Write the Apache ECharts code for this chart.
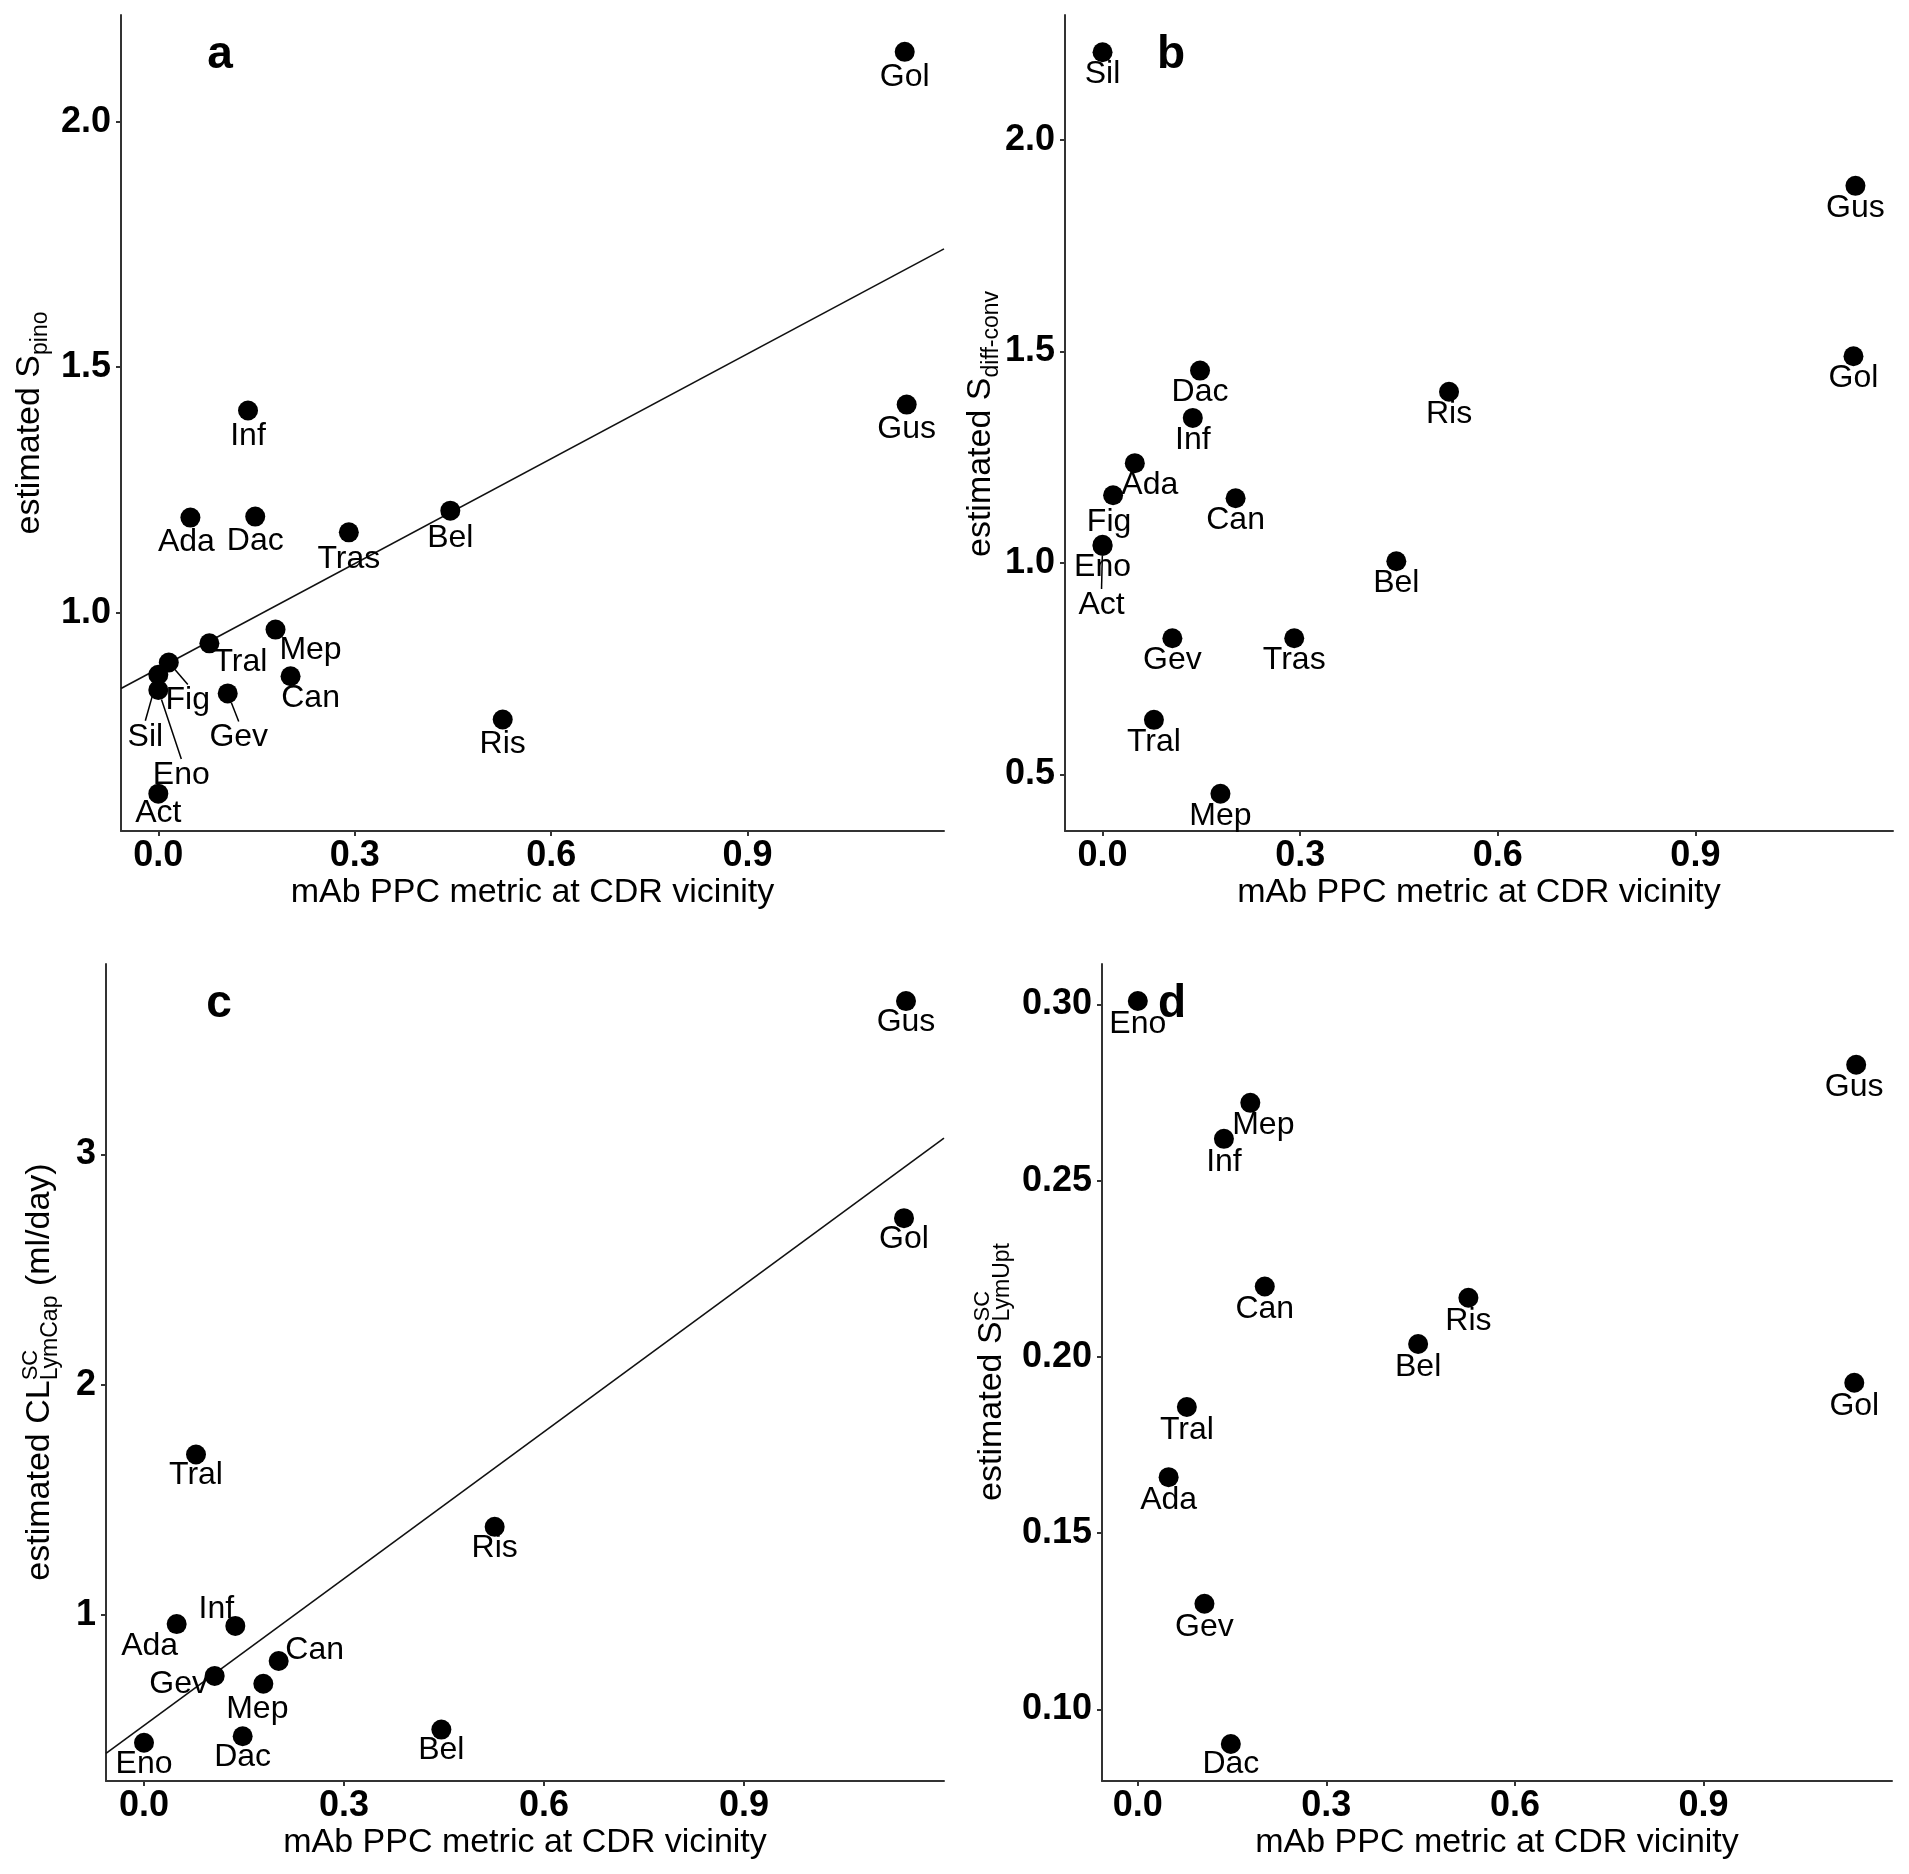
<!DOCTYPE html>
<html>
<head>
<meta charset="utf-8">
<script src="https://cdn.jsdelivr.net/npm/echarts@6/dist/echarts.min.js"></script>
<style>
  html, body { margin: 0; padding: 0; background: #fff; }
  #chart { width: 1909px; height: 1874px; }
</style>
</head>
<body>
<div id="chart"></div>
<script>
const FONT = '"Liberation Sans", Arial, sans-serif'

// mAbs, and the PPC metric at CDR vicinity (x of every panel)
const drugs = ['Gol', 'Gus', 'Inf', 'Ada', 'Dac', 'Tras', 'Bel', 'Tral', 'Mep', 'Can', 'Gev', 'Fig', 'Sil', 'Eno', 'Act', 'Ris']
const ppcMetric = [1.140, 1.143, 0.137, 0.049, 0.148, 0.291, 0.446, 0.078, 0.179, 0.202, 0.106, 0.016, 0.000, 0.000, 0.000, 0.526]

// estimated parameters (null = mAb not in that panel)
const sPino = [2.142, 1.424, 1.412, 1.194, 1.196, 1.164, 1.208, 0.938, 0.966, 0.871, 0.836, 0.899, 0.874, 0.843, 0.632, 0.783]
const sDiffConv = [1.489, 1.892, 1.343, 1.236, 1.455, 0.822, 1.004, 0.629, 0.454, 1.153, 0.822, 1.160, 2.208, 1.043, 1.040, 1.405]
const clLymCap = [2.723, 3.665, 0.953, 0.961, 0.474, null, 0.503, 1.697, 0.702, 0.801, 0.736, null, null, 0.446, null, 1.383]
const sLymUpt = [0.1927, 0.2829, 0.2619, 0.1659, 0.0902, null, 0.2037, 0.1858, 0.2721, 0.2200, 0.1300, null, null, 0.3010, null, 0.2168]

// linear fits (ends at the x limits)
const fitA = [[-0.057, 0.846], [1.2, 1.741]]
const fitC = [[-0.057, 0.400], [1.2, 3.070]]

// axis ticks
const xTicks = [0, 0.3, 0.6, 0.9]
const yTicksA = [1.0, 1.5, 2.0]
const yTicksB = [0.5, 1.0, 1.5, 2.0]
const yTicksC = [1, 2, 3]
const yTicksD = [0.10, 0.15, 0.20, 0.25, 0.30]

// label placement (px from the point centre), like ggrepel put them
const labelPos = [
  { def: [0, 25], Sil: [-13, 62], Eno: [23, 85], Fig: [19, 38], Tral: [31, 19], Mep: [35, 21], Can: [20, 22], Gev: [11, 44], Act: [0, 20], Ada: [-4, 25], Bel: [0, 27], Tras: [0, 27], Inf: [0, 26] },
  { def: [0, 22], Ada: [15, 22], Fig: [-4, 27], Act: [-1, 59] },
  { def: [0, 21], Ada: [-27, 22], Inf: [-19, -17], Can: [36, -11], Gev: [-36, 8], Mep: [-6, 25] },
  { def: [0, 23], Mep: [13, 22], Gus: [-2, 22], Dac: [0, 20] }
]
const segments = [['Sil', 'Eno', 'Fig', 'Gev'], ['Act'], [], []]

const grids = [
  { left: 121, top: 15, width: 823, height: 816 },
  { left: 1065, top: 15, width: 828, height: 816 },
  { left: 106, top: 964, width: 838, height: 817 },
  { left: 1102, top: 964, width: 790, height: 817 }
]
const yRanges = [[0.556, 2.217], [0.366, 2.296], [0.28, 3.826], [0.0797, 0.3115]]
const yTicks = [yTicksA, yTicksB, yTicksC, yTicksD]
const yDigits = [1, 1, 0, 2]
const panelValues = [sPino, sDiffConv, clLymCap, sLymUpt]

const axisColor = '#333'

const xAxes = grids.map((g, i) => ({
  type: 'value',
  gridIndex: i,
  min: -0.057,
  max: 1.2,
  name: 'mAb PPC metric at CDR vicinity',
  nameLocation: 'middle',
  nameGap: 45,
  nameTextStyle: { fontSize: 34, color: '#000', fontFamily: FONT },
  axisLine: { show: true, onZero: false, lineStyle: { color: axisColor, width: 2 } },
  axisTick: { show: true, length: 5, customValues: xTicks, lineStyle: { color: axisColor, width: 2 } },
  axisLabel: {
    customValues: xTicks,
    formatter: v => v.toFixed(1),
    fontSize: 36, fontWeight: 'bold', color: '#000', fontFamily: FONT, margin: 7
  },
  splitLine: { show: false }
}))

const yAxes = grids.map((g, i) => ({
  type: 'value',
  gridIndex: i,
  min: yRanges[i][0],
  max: yRanges[i][1],
  axisLine: { show: true, onZero: false, lineStyle: { color: axisColor, width: 2 } },
  axisTick: { show: true, length: 5, customValues: yTicks[i], lineStyle: { color: axisColor, width: 2 } },
  axisLabel: {
    customValues: yTicks[i],
    formatter: v => v.toFixed(yDigits[i]),
    fontSize: 36, fontWeight: 'bold', color: '#000', fontFamily: FONT, margin: 10
  },
  splitLine: { show: false }
}))

const pointSeries = panelValues.map((vals, p) => {
  const data = []
  drugs.forEach((d, i) => {
    if (vals[i] === null) return
    data.push({
      name: d,
      value: [ppcMetric[i], vals[i]],
      labelLine: { show: segments[p].includes(d) }
    })
  })
  return {
    type: 'scatter',
    xAxisIndex: p,
    yAxisIndex: p,
    symbol: 'circle',
    symbolSize: 20,
    itemStyle: { color: '#000', opacity: 1 },
    z: 5,
    label: {
      show: true,
      position: 'inside',
      formatter: '{b}',
      fontSize: 32,
      color: '#000',
      fontFamily: FONT
    },
    labelLine: { show: false, lineStyle: { color: '#000', width: 1.5 } },
    labelLayout: params => {
      const name = data[params.dataIndex].name
      const o = labelPos[p][name] || labelPos[p].def
      return { dx: o[0], dy: o[1] }
    },
    emphasis: { disabled: true },
    data
  }
})

const fitSeries = [[0, fitA], [2, fitC]].map(([p, d]) => ({
  type: 'line',
  xAxisIndex: p,
  yAxisIndex: p,
  data: d,
  symbol: 'none',
  lineStyle: { color: '#111', width: 1.6 },
  z: 2,
  silent: true
}))

// rotated y titles with sub/superscripts
const measureCtx = document.createElement('canvas').getContext('2d')
const yTitle = (parts, cx, cy) => {
  let pos = 0
  const children = []
  parts.forEach(part => {
    const font = part.size + 'px ' + FONT
    measureCtx.font = font
    const w = measureCtx.measureText(part.text).width
    children.push({
      type: 'text',
      x: pos,
      y: part.shift,
      style: {
        text: part.text, font, fill: '#000',
        align: 'left', verticalAlign: 'middle', textAlign: 'left', textVerticalAlign: 'middle'
      }
    })
    if (!part.stack) pos += w
  })
  return { type: 'group', x: cx, y: cy + pos / 2, rotation: Math.PI / 2, children }
}

const main = t => ({ text: t, size: 34, shift: 0 })
const sub = t => ({ text: t, size: 23, shift: 11 })
const sup = t => ({ text: t, size: 22, shift: -9, stack: true })

const panelLetter = (t, x, y) => ({
  type: 'text',
  x, y,
  style: {
    text: t, font: 'bold 46px ' + FONT, fill: '#000',
    align: 'center', verticalAlign: 'middle', textAlign: 'center', textVerticalAlign: 'middle'
  }
})

const chart = echarts.init(document.getElementById('chart'), null, { renderer: 'canvas' })
chart.setOption({
  backgroundColor: '#fff',
  animation: false,
  grid: grids.map(g => Object.assign({ containLabel: false }, g)),
  xAxis: xAxes,
  yAxis: yAxes,
  series: [...fitSeries, ...pointSeries],
  graphic: [
    yTitle([main('estimated S'), sub('pino')], 29.5, 423),
    yTitle([main('estimated S'), sub('diff-conv')], 980.5, 424),
    yTitle([main('estimated CL'), sup('SC'), sub('LymCap'), main(' (ml/day)')], 39.5, 1372),
    yTitle([main('estimated S'), sup('SC'), sub('LymUpt')], 992, 1372),
    panelLetter('a', 220, 55),
    panelLetter('b', 1171, 55),
    panelLetter('c', 219, 1004),
    panelLetter('d', 1172, 1004)
  ]
})
</script>
</body>
</html>
